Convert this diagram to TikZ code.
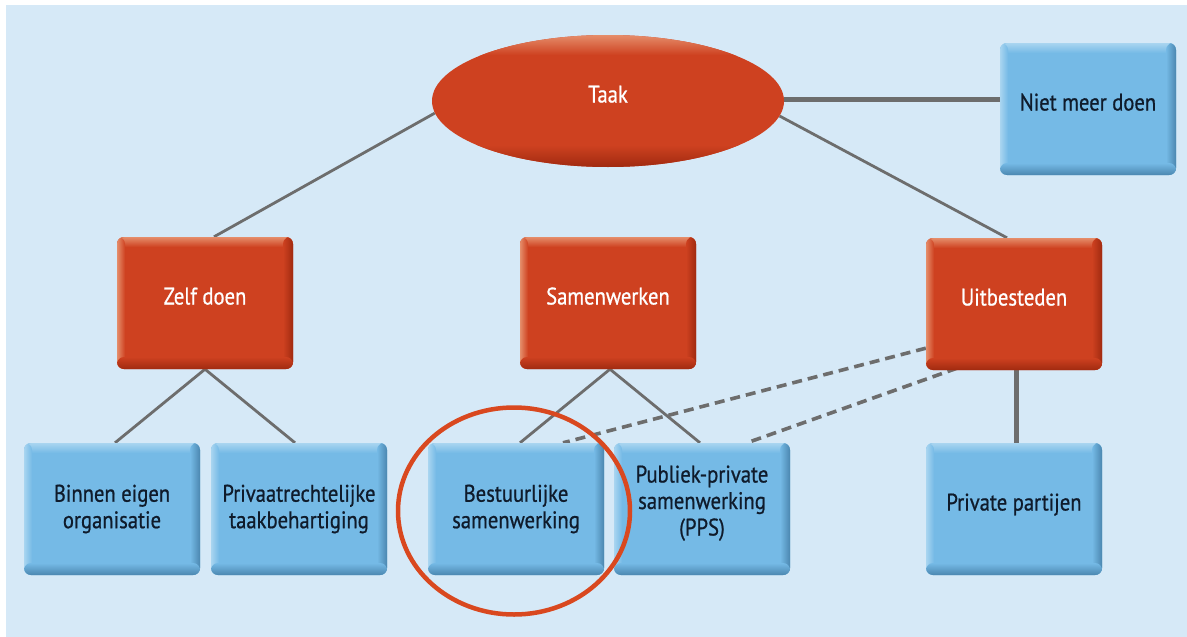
\documentclass[tikz,border=0pt]{standalone}
\usepackage{fontspec}
\setmainfont{PT Sans}[FakeStretch=0.86, FakeBold=0.7]
\usetikzlibrary{shapes.geometric,calc,fadings}
\definecolor{bgblue}{HTML}{D6E9F7}
\definecolor{rbase}{HTML}{CE4120}
\definecolor{rlight}{HTML}{E58D6A}
\definecolor{rdark}{HTML}{A02A10}
\definecolor{bbase}{HTML}{75BAE6}
\definecolor{blight}{HTML}{A9D5F0}
\definecolor{bdark}{HTML}{4B87B0}
\definecolor{linegray}{HTML}{6D6D6D}
\definecolor{navy}{HTML}{0F1B2B}
\definecolor{circred}{HTML}{D9481F}
\pgfdeclareradialshading{rimmask}{\pgfpoint{0bp}{0bp}}{color(0bp)=(pgftransparent!100); color(39bp)=(pgftransparent!100); color(50bp)=(pgftransparent!50)}
\pgfdeclarefading{rimfade}{\pgfuseshading{rimmask}}
\pgfdeclarelayer{bglayer}
\pgfdeclarelayer{linelayer}
\pgfsetlayers{bglayer,linelayer,main}
\tikzset{
  bevel/.style n args={3}{fill=#1, path picture={
     \path (path picture bounding box.south west) coordinate (pSW)
           (path picture bounding box.north east) coordinate (pNE)
           (path picture bounding box.north west) coordinate (pNW)
           (path picture bounding box.south east) coordinate (pSE);
     \shade[top color=#2, bottom color=#1] (pNW) rectangle ([yshift=-10pt]pNE);
     \shade[left color=#2, right color=#1] (pSW) rectangle ([xshift=8pt]pNW);
     \shade[left color=#1, right color=#3] ([xshift=-10pt]pSE) rectangle (pNE);
     \shade[top color=#1, bottom color=#3] (pSW) rectangle ([yshift=12pt]pSE);
  }},
  ellbevel/.style={fill=rbase, path picture={
     \path (path picture bounding box.south west) coordinate (pSW)
           (path picture bounding box.north east) coordinate (pNE)
           (path picture bounding box.north west) coordinate (pNW)
           (path picture bounding box.south east) coordinate (pSE);
     \fill[rdark, path fading=rimfade] (pSW) rectangle (pNE);
     \shade[top color=rlight, bottom color=rbase] (pNW) rectangle ([yshift=-20pt]pNE);
     \shade[top color=rbase, bottom color=rdark] ([yshift=22pt]pSW) rectangle (pSE);
  }},
  txt/.style={font=\fontsize{24}{26.5}\selectfont},
  boxbase/.style={rectangle, rounded corners=7pt, minimum width=176pt, minimum height=132pt,
     inner sep=0pt, align=center, txt},
  redbox/.style={boxbase, bevel={rbase}{rlight}{rdark}, text=white},
  bluebox/.style={boxbase, bevel={bbase}{blight}{bdark}, text=navy},
  oneline/.style={text height=10pt, text depth=7pt},
  threeline/.style={text height=61pt, text depth=8pt},
  conn/.style={draw=linegray, line width=2.8pt},
  thickconn/.style={draw=linegray, line width=5pt},
  dashconn/.style={draw=linegray, line width=3.6pt, dash pattern=on 10pt off 6pt},
}
\begin{document}
\begin{tikzpicture}[x=1pt,y=-1pt]
\useasboundingbox (0,0) rectangle (1187,637);
\begin{pgfonlayer}{bglayer}
  \fill[bgblue] (6,5) rectangle (1187,637);
\end{pgfonlayer}

\node[ellipse, minimum width=352pt, minimum height=132pt, inner sep=0pt, ellbevel,
      text=white, txt, oneline] (taak) at (608,101) {Taak};
\node[bluebox, oneline] (niet) at (1088,109) {Niet meer doen};
\node[redbox, oneline] (zelf) at (205,303) {Zelf doen};
\node[redbox, oneline] (samen) at (608,303) {Samenwerken};
\node[redbox, oneline] (uit) at (1014,304) {Uitbesteden};
\node[bluebox] (binnen) at (112,509) {Binnen eigen\\organisatie};
\node[bluebox] (privaat) at (299,509) {Privaatrechtelijke\\taakbehartiging};
\node[bluebox] (bestuur) at (516,509) {Bestuurlijke\\samenwerking};
\node[bluebox, threeline] (pps) at (702,509) {Publiek-private\\samenwerking\\(PPS)};
\node[bluebox, oneline] (private) at (1014,509) {Private partijen};

\begin{pgfonlayer}{linelayer}
  \draw[conn] (taak.184) -- ([xshift=9pt]zelf.north);
  \draw[conn] (taak.-5) -- ([xshift=-7pt]uit.north);
  \draw[thickconn] ([yshift=2pt]taak.east) -- ([yshift=2pt]taak.east -| niet.west);
  \draw[conn] (zelf.south) -- ([xshift=3pt]binnen.north);
  \draw[conn] (zelf.south) -- ([xshift=-4pt]privaat.north);
  \draw[conn] ([xshift=2pt]samen.south) -- ([xshift=4pt]bestuur.north);
  \draw[conn] ([xshift=2pt]samen.south) -- ([xshift=-2pt]pps.north);
  \draw[thickconn] ([xshift=2pt]uit.south) -- ([xshift=2pt]private.north);
  \draw[dashconn] ([yshift=22pt]uit.south west) -- ([xshift=47pt]bestuur.north);
  \draw[dashconn] ([xshift=-57pt,yshift=2pt]uit.south) -- ([xshift=45pt]pps.north);
\end{pgfonlayer}

\node[draw=circred, line width=4.5pt, ellipse, minimum width=232pt, minimum height=207pt, inner sep=0pt] (circ) at (514,511) {};
\end{tikzpicture}
\end{document}
